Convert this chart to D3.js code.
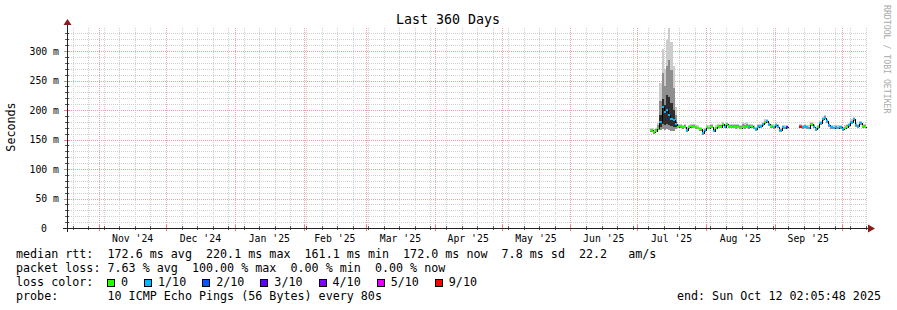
<!DOCTYPE html>
<html>
<head>
<meta charset="utf-8">
<script src="https://cdn.jsdelivr.net/npm/d3@7"></script>
<style>
  body { margin: 0; background: #fff; }
  svg text { font-family: "DejaVu Sans Mono", monospace; }
</style>
</head>
<body>
<div id="chart"></div>
<script>
// ---- data ----
const title = 'Last 360 Days';
const yLabel = 'Seconds';
const sideNote = 'RRDTOOL / TOBI OETIKER';
const yTickValues = [0, 50, 100, 150, 200, 250, 300];
const monthLabels = ["Nov '24", "Dec '24", "Jan '25", "Feb '25", "Mar '25", "Apr '25",
  "May '25", "Jun '25", "Jul '25", "Aug '25", "Sep '25"];

// one value per day, starting 2025-07-07 (ms); null = no data
const firstDay = Date.UTC(2025, 6, 7);
const medianRtt = [
  166, 162, 165, 170, 180, 205, 196, 200, 192, 185,
  183, 176, 172, 173, 171, 172, 166, 171, 173, 172,
  171, 170, 168, 161, 166, 171, 170, 172, 165, 170,
  173, 172, 176, 172, 176, 173, 172, 172, 171, 172,
  170, 172, 171, 172, 171, 173, 170, 168, 172, 173,
  176, 180, 181, 176, 173, 171, 174, 172, 166, 171,
  170, 171, null, null, null, null, null, 172, 171, 172,
  171, 170, 176, 172, 168, 171, 178, 184, 187, 181,
  174, 171, 170, 171, 170, 171, 167, 170, 172, 174,
  180, 184, 175, 173, 178, 173, 172
];
// index into lossLabels / lossColors
const lossLevel = [
  0, 0, 0, 0, 1, 1, 1, 1, 1, 1,
  1, 1, 0, 0, 0, 0, 1, 0, 0, 0,
  0, 0, 0, 1, 1, 0, 0, 0, 1, 0,
  0, 0, 0, 1, 0, 0, 0, 0, 0, 0,
  0, 0, 0, 0, 1, 0, 1, 1, 1, 1,
  1, 0, 1, 1, 0, 1, 1, 1, 1, 1,
  1, 3, null, null, null, null, null, 6, 1, 1,
  1, 1, 0, 1, 1, 0, 1, 1, 1, 1,
  1, 1, 1, 1, 1, 1, 1, 0, 0, 1,
  1, 1, 1, 1, 1, 0, 0
];
// smoke: spread of the 10 pings per day
const pingMax = [
  170, 167, 170, 178, 245, 303, 270, 318, 339, 315,
  275, 205, 176, 177, 175, 176, 171, 175, 177, 176,
  175, 174, 172, 166, 170, 175, 174, 176, 170, 174,
  177, 176, 180, 176, 180, 177, 176, 176, 176, 177,
  175, 179, 178, 179, 177, 177, 174, 172, 176, 177,
  180, 184, 185, 180, 177, 175, 178, 176, 170, 175,
  174, 175, null, null, null, null, null, 176, 175, 176,
  175, 174, 180, 176, 172, 175, 182, 188, 191, 185,
  178, 175, 174, 175, 174, 175, 171, 174, 176, 178,
  184, 188, 179, 177, 182, 177, 176
];
const pingUpper = [
  168, 164, 167, 174, 215, 262, 240, 275, 285, 268,
  238, 192, 174, 175, 173, 174, 168, 173, 175, 174,
  173, 172, 170, 163, 168, 173, 172, 174, 167, 172,
  175, 174, 178, 174, 178, 175, 174, 174, 174, 175,
  173, 176, 175, 176, 174, 175, 172, 170, 174, 175,
  178, 182, 183, 178, 175, 173, 176, 174, 168, 173,
  172, 173, null, null, null, null, null, 174, 173, 174,
  173, 172, 178, 174, 170, 173, 180, 186, 189, 183,
  176, 173, 172, 173, 172, 173, 169, 172, 174, 176,
  182, 186, 177, 175, 180, 175, 174
];
const pingHi = [
  167, 163, 166, 171, 192, 218, 208, 225, 222, 212,
  200, 180, 173, 174, 172, 173, 167, 172, 174, 173,
  172, 171, 169, 162, 167, 172, 171, 173, 166, 171,
  174, 173, 177, 173, 177, 174, 173, 173, 172, 173,
  171, 173, 172, 173, 172, 174, 171, 169, 173, 174,
  177, 181, 182, 177, 174, 172, 175, 173, 167, 172,
  171, 172, null, null, null, null, null, 173, 172, 173,
  172, 171, 177, 173, 169, 172, 179, 185, 188, 182,
  175, 172, 171, 172, 171, 172, 168, 171, 173, 175,
  181, 185, 176, 174, 179, 174, 173
];
const pingLo = [
  165, 161, 164, 168, 172, 176, 174, 176, 175, 173,
  171, 172, 171, 172, 170, 171, 165, 170, 172, 171,
  170, 169, 167, 160, 165, 170, 169, 171, 164, 169,
  172, 171, 175, 171, 175, 172, 171, 171, 170, 171,
  169, 171, 170, 171, 170, 172, 169, 167, 171, 172,
  175, 179, 180, 175, 172, 170, 173, 171, 165, 170,
  169, 170, null, null, null, null, null, 171, 170, 171,
  170, 169, 175, 171, 167, 170, 177, 183, 186, 180,
  173, 170, 169, 170, 169, 170, 166, 169, 171, 173,
  179, 183, 174, 172, 177, 172, 171
];
const pingMin = [
  163, 160, 162, 166, 166, 167, 166, 167, 166, 165,
  165, 167, 169, 170, 168, 169, 163, 168, 170, 169,
  168, 167, 165, 158, 163, 168, 167, 169, 162, 167,
  170, 169, 173, 169, 173, 170, 169, 169, 168, 169,
  167, 169, 168, 169, 168, 170, 167, 165, 169, 170,
  173, 177, 178, 173, 170, 168, 171, 169, 163, 168,
  167, 168, null, null, null, null, null, 169, 168, 169,
  168, 167, 173, 169, 165, 168, 175, 181, 184, 178,
  171, 168, 167, 168, 167, 168, 164, 167, 169, 171,
  177, 181, 172, 170, 175, 170, 169
];

const lossLabels = ['0', '1/10', '2/10', '3/10', '4/10', '5/10', '9/10'];
const lossColors = ['#26ff00', '#00b8ff', '#0059ff', '#5e00ff', '#7e00ff', '#dd00ff', '#ff0000'];

const legendRtt = 'median rtt:  172.6 ms avg  220.1 ms max  161.1 ms min  172.0 ms now  7.8 ms sd  22.2   am/s';
const legendLoss = 'packet loss: 7.63 % avg  100.00 % max  0.00 % min  0.00 % now';
const legendColorHead = 'loss color:';
const legendProbe = 'probe:       10 ICMP Echo Pings (56 Bytes) every 80s';
const legendEnd = 'end: Sun Oct 12 02:05:48 2025';

// graph window (dates in graph-local time)
const tStart = new Date(Date.UTC(2024, 9, 17, 11, 5, 48));
const tEnd = new Date(Date.UTC(2025, 9, 12, 11, 5, 48));

// ---- layout ----
const W = 897, H = 310;
const plot = { left: 67, right: 867, top: 28, bottom: 228 };

const svg = d3.select('#chart').append('svg')
  .attr('width', W)
  .attr('height', H)
  .style('display', 'block');

svg.append('rect').attr('width', W).attr('height', H).attr('fill', '#fff');

const x = d3.scaleUtc().domain([tStart, tEnd]).range([plot.left, plot.right]);
const y = d3.scaleLinear().domain([0, 339]).range([plot.bottom, plot.top]);

const grid = svg.append('g').attr('shape-rendering', 'crispEdges');

// minor grid
d3.range(10, 340, 10).filter(v => v % 50 !== 0).forEach(v => {
  grid.append('line')
    .attr('x1', plot.left).attr('x2', plot.right)
    .attr('y1', Math.round(y(v)) + 0.5).attr('y2', Math.round(y(v)) + 0.5)
    .attr('stroke', '#cfcfcf').attr('stroke-dasharray', '1,1');
});
d3.utcSunday.range(tStart, tEnd).forEach(d => {
  grid.append('line')
    .attr('x1', Math.round(x(d)) + 0.5).attr('x2', Math.round(x(d)) + 0.5)
    .attr('y1', plot.top).attr('y2', plot.bottom)
    .attr('stroke', '#cfcfcf').attr('stroke-dasharray', '1,1');
});

// major grid
yTickValues.filter(v => v > 0).forEach(v => {
  grid.append('line')
    .attr('x1', plot.left).attr('x2', plot.right)
    .attr('y1', Math.round(y(v)) + 0.5).attr('y2', Math.round(y(v)) + 0.5)
    .attr('stroke', '#f0a0a0').attr('stroke-dasharray', '1,1');
});
const months = d3.utcMonth.range(tStart, tEnd);
months.forEach(d => {
  grid.append('line')
    .attr('x1', Math.round(x(d)) + 0.5).attr('x2', Math.round(x(d)) + 0.5)
    .attr('y1', plot.top).attr('y2', plot.bottom)
    .attr('stroke', '#f0a0a0').attr('stroke-dasharray', '1,1');
});

// ---- smoke and median ----
const days = medianRtt.map((v, i) => ({
  t0: d3.utcDay.offset(new Date(firstDay), i),
  t1: d3.utcDay.offset(new Date(firstDay), i + 1),
  med: v,
  loss: lossLevel[i],
  bands: [[pingMax[i], pingMin[i]], [pingUpper[i], pingMin[i]], [pingHi[i], pingLo[i]]]
})).filter(d => d.med !== null);

const data = svg.append('g').attr('shape-rendering', 'crispEdges');
const smokeFill = ['#cccccc', '#8e8e8e', '#2e2e2e'];

smokeFill.forEach((fill, k) => {
  data.selectAll('rect.smoke-' + k).data(days).join('rect')
    .attr('class', 'smoke-' + k)
    .attr('x', d => Math.round(x(d.t0)))
    .attr('width', d => Math.round(x(d.t1)) - Math.round(x(d.t0)))
    .attr('y', d => Math.round(y(d.bands[k][0])))
    .attr('height', d => Math.max(1, Math.round(y(d.bands[k][1])) - Math.round(y(d.bands[k][0]))))
    .attr('fill', fill);
});

// stepped median outline (vertical joins)
const segments = [];
let cur = [];
medianRtt.forEach((v, i) => {
  if (v === null) { if (cur.length) segments.push(cur); cur = []; return; }
  cur.push({ t: d3.utcDay.offset(new Date(firstDay), i), v });
  cur.push({ t: d3.utcDay.offset(new Date(firstDay), i + 1), v });
});
if (cur.length) segments.push(cur);

const stepLine = d3.line()
  .x(d => Math.round(x(d.t)) + 0.5)
  .y(d => Math.round(y(d.v)) + 0.5);

data.selectAll('path.median').data(segments).join('path')
  .attr('class', 'median')
  .attr('d', stepLine)
  .attr('fill', 'none')
  .attr('stroke', '#000')
  .attr('stroke-width', 1);

data.selectAll('rect.median-col').data(days).join('rect')
  .attr('class', 'median-col')
  .attr('x', d => Math.round(x(d.t0)))
  .attr('width', d => Math.round(x(d.t1)) - Math.round(x(d.t0)))
  .attr('y', d => Math.round(y(d.med)) - 1)
  .attr('height', 2)
  .attr('fill', d => lossColors[d.loss]);

// ---- axes ----
const axis = svg.append('g').attr('shape-rendering', 'crispEdges');

d3.range(0, 340, 10).forEach(v => {
  const yy = Math.round(y(v)) + 0.5;
  const major = v % 50 === 0;
  axis.append('line')
    .attr('x1', plot.left - (major ? 3 : 2)).attr('x2', plot.left + (major ? 3 : 2))
    .attr('y1', yy).attr('y2', yy)
    .attr('stroke', major ? '#f08080' : '#555');
});
d3.utcSunday.range(tStart, tEnd).forEach(d => {
  const xx = Math.round(x(d)) + 0.5;
  axis.append('line').attr('x1', xx).attr('x2', xx)
    .attr('y1', plot.bottom - 2).attr('y2', plot.bottom + 2).attr('stroke', '#555');
});
months.forEach(d => {
  const xx = Math.round(x(d)) + 0.5;
  axis.append('line').attr('x1', xx).attr('x2', xx)
    .attr('y1', plot.bottom - 3).attr('y2', plot.bottom + 3).attr('stroke', '#f08080');
});

axis.append('line')
  .attr('x1', plot.left - 4).attr('x2', plot.right + 2)
  .attr('y1', plot.bottom + 0.5).attr('y2', plot.bottom + 0.5)
  .attr('stroke', '#222');
axis.append('line')
  .attr('x1', plot.left + 0.5).attr('x2', plot.left + 0.5)
  .attr('y1', plot.top - 4).attr('y2', plot.bottom + 4)
  .attr('stroke', '#222');

// arrows
svg.append('path')
  .attr('d', `M${plot.right + 1},${plot.bottom - 3.5}L${plot.right + 8},${plot.bottom + 0.5}L${plot.right + 1},${plot.bottom + 4.5}Z`)
  .attr('fill', '#8b1a1a');
svg.append('path')
  .attr('d', `M${plot.left - 3.5},${plot.top - 3}L${plot.left + 0.5},${plot.top - 9}L${plot.left + 4.5},${plot.top - 3}Z`)
  .attr('fill', '#8b1a1a');

// monospace text laid out word by word, so runs of spaces keep their width
function monoText(g, str, x0, y0, size, anchor) {
  const probe = g.append('text').attr('font-size', size).text('MMMMMMMMMM');
  const cw = probe.node().getComputedTextLength() / 10;
  probe.remove();
  const start = anchor === 'end' ? x0 - cw * str.length : x0;
  const t = g.append('text').attr('font-size', size).attr('y', y0);
  let re = /\S+/g, m;
  while ((m = re.exec(str)) !== null) {
    t.append('tspan').attr('x', start + m.index * cw).text(m[0]);
  }
  return t;
}

// y labels
const yl = svg.append('g').attr('fill', '#000');
yTickValues.forEach(v => {
  if (v === 0) monoText(yl, '0', 47, y(v) + 3.5, 9.8, 'end');
  else monoText(yl, v + ' m', 59, y(v) + 3.5, 9.8, 'end');
});

// month labels at month centres
svg.append('g').selectAll('text').data(months.slice(0, monthLabels.length)).join('text')
  .attr('x', d => (x(d) + x(d3.utcMonth.offset(d, 1))) / 2)
  .attr('y', 241.5)
  .attr('text-anchor', 'middle')
  .attr('font-size', 9.8)
  .attr('fill', '#000')
  .text((d, i) => monthLabels[i].replace(/ /g, '\u00a0'));

// title and axis label
svg.append('text')
  .attr('x', 448).attr('y', 23.5)
  .attr('text-anchor', 'middle')
  .attr('font-size', 13.3)
  .text(title.replace(/ /g, '\u00a0'));

svg.append('text')
  .attr('transform', 'translate(15,127) rotate(-90)')
  .attr('text-anchor', 'middle')
  .attr('font-size', 11.7)
  .text(yLabel);

svg.append('text')
  .attr('transform', 'translate(884,5) rotate(90)')
  .attr('text-anchor', 'start')
  .attr('font-size', 8.2)
  .attr('fill', '#aaa')
  .text(sideNote.replace(/ /g, '\u00a0'));

// ---- legend ----
const fs = 11.7;
const leg = svg.append('g').attr('fill', '#000');
monoText(leg, legendRtt, 16, 257.5, fs);
monoText(leg, legendLoss, 16, 271.5, fs);
monoText(leg, legendColorHead, 16, 285.5, fs);
monoText(leg, legendProbe, 16, 299.5, fs);
monoText(leg, legendEnd, 881, 299.5, fs, 'end');

let lx = 107;
lossLabels.forEach((lab, i) => {
  leg.append('rect')
    .attr('x', lx + 0.5).attr('y', 279.5)
    .attr('width', 7).attr('height', 7)
    .attr('fill', lossColors[i]).attr('stroke', '#000').attr('stroke-width', 1)
    .attr('shape-rendering', 'crispEdges');
  const t = leg.append('text').attr('font-size', fs).attr('x', lx + 14).attr('y', 285.5).text(lab);
  lx = lx + 14 + t.node().getComputedTextLength() + 16;
});
</script>
</body>
</html>
